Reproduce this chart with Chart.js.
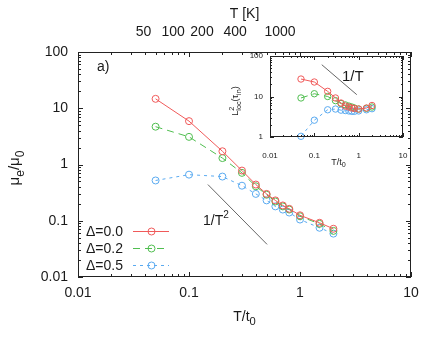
<!DOCTYPE html>
<html><head><meta charset="utf-8">
<script src="https://cdn.jsdelivr.net/npm/chart.js@4.4.0/dist/chart.umd.min.js"></script>
<style>
html,body{margin:0;padding:0;background:#fff;}
#wrap{position:relative;width:436px;height:349px;background:#fff;}
canvas{position:absolute;left:0;top:0;}
</style></head><body>
<div id="wrap"><canvas id="main" width="436" height="349"></canvas><canvas id="inset" width="436" height="349"></canvas></div>
<script>
// ---- data ----
const temperatures = [0.05, 0.1, 0.2, 0.3, 0.4, 0.5, 0.6, 0.7, 0.8, 1.0, 1.5, 2.0];
const mobilityD00 = [14.7, 5.9, 1.72, 0.78, 0.44, 0.30, 0.23, 0.187, 0.163, 0.125, 0.092, 0.072];
const mobilityD02 = [4.7, 3.1, 1.3, 0.71, 0.41, 0.29, 0.22, 0.18, 0.158, 0.12, 0.088, 0.066];
const mobilityD05 = [0.52, 0.66, 0.61, 0.42, 0.30, 0.23, 0.18, 0.158, 0.14, 0.105, 0.075, 0.059];
const locLengthD00 = [27, 22.8, 13.4, 9.2, 6.9, 5.8, 5.5, 5.2, 5.1, 4.9, 5.2, 6.0];
const locLengthD02 = [9.2, 11.7, 10, 7.9, 6.7, 6.2, 5.8, 5.5, 5.2, 4.9, 5.1, 5.5];
const locLengthD05 = [1.04, 2.6, 4.7, 4.9, 4.6, 4.5, 4.4, 4.3, 4.3, 4.4, 4.7, 5.0];
const seriesLabels = ['Δ=0.0', 'Δ=0.2', 'Δ=0.5'];
const xTickValues = [0.01, 0.1, 1, 10];
const xTickLabels = ['0.01', '0.1', '1', '10'];
const yTickValues = [0.01, 0.1, 1, 10, 100];
const yTickLabels = ['0.01', '0.1', '1', '10', '100'];
const kelvinTickValues = [0.039, 0.072, 0.131, 0.26, 0.66];
const kelvinTickLabels = ['50', '100', '200', '400', '1000'];
const insetYTickValues = [1, 10, 100];
const insetYTickLabels = ['1', '10', '100'];
const guideT2X = [0.148, 0.505];
const guideT2Y = [0.44, 0.038];
const guideT1X = [0.147, 0.906];
const guideT1Y = [61, 11.1];

// ---- styles ----
const FAMILY = '"Liberation Sans", Arial, Helvetica, sans-serif';
const TEXT = '#1a1a1a';
const FRAME = '#222';
const COLORS = ['rgb(240,90,90)', 'rgb(80,190,80)', 'rgb(90,170,240)'];
const DASHES = [[], [7, 5], [3, 4]];
Chart.defaults.font.family = FAMILY;
Chart.defaults.color = TEXT;

function pts(xs, ys) { return xs.map((x, i) => ({x: x, y: ys[i]})); }
function series(i, ys, r) {
  return {
    label: seriesLabels[i], data: pts(temperatures, ys),
    borderColor: COLORS[i], backgroundColor: 'rgba(0,0,0,0)', borderWidth: 1,
    borderDash: DASHES[i], pointRadius: r, pointBorderColor: COLORS[i],
    pointBackgroundColor: 'rgba(0,0,0,0)', pointBorderWidth: 1, tension: 0, fill: false, clip: false
  };
}
function guide(xs, ys) {
  return {data: pts(xs, ys), borderColor: '#666', borderWidth: 1, pointRadius: 0, fill: false, tension: 0};
}

function rich(ctx, x, y, parts, size, align, rot) {
  ctx.save();
  ctx.translate(x, y);
  if (rot) ctx.rotate(rot);
  const fontOf = s => s + 'px ' + FAMILY;
  let w = 0;
  for (const p of parts) {
    ctx.font = fontOf(size * (p.scale || 1));
    if (!p.stack) w += ctx.measureText(p.t).width;
  }
  let cx = align === 'center' ? -w / 2 : (align === 'right' ? -w : 0);
  ctx.textBaseline = 'alphabetic'; ctx.textAlign = 'left'; ctx.fillStyle = TEXT;
  for (const p of parts) {
    ctx.font = fontOf(size * (p.scale || 1));
    ctx.fillText(p.t, cx, (p.dy || 0) * size);
    if (!p.stack) cx += ctx.measureText(p.t).width;
  }
  ctx.restore();
}

function drawFrameAndTicks(chart, xs, ys, major, minor) {
  const {ctx} = chart;
  const a = chart.chartArea;
  ctx.save();
  ctx.strokeStyle = FRAME; ctx.lineWidth = 1; ctx.setLineDash([]);
  ctx.beginPath();
  const logTicks = (sc) => {
    const out = [];
    for (let e = Math.floor(Math.log10(sc.min) + 1e-9); e <= Math.ceil(Math.log10(sc.max) - 1e-9); e++) {
      for (let k = 1; k <= 9; k++) {
        const v = k * Math.pow(10, e);
        if (v >= sc.min * 0.999 && v <= sc.max * 1.001) out.push({v: v, major: k === 1});
      }
    }
    return out;
  };
  for (const t of logTicks(xs)) {
    const px = Math.round(xs.getPixelForValue(t.v)) + 0.5;
    const L = t.major ? major : minor;
    ctx.moveTo(px, a.bottom); ctx.lineTo(px, a.bottom - L);
    ctx.moveTo(px, a.top); ctx.lineTo(px, a.top + L);
  }
  for (const t of logTicks(ys)) {
    const py = Math.round(ys.getPixelForValue(t.v)) + 0.5;
    const L = t.major ? major : minor;
    ctx.moveTo(a.left, py); ctx.lineTo(a.left + L, py);
    ctx.moveTo(a.right, py); ctx.lineTo(a.right - L, py);
  }
  ctx.stroke();
  ctx.strokeRect(Math.round(a.left) + 0.5, Math.round(a.top) + 0.5, Math.round(a.right - a.left) - 1, Math.round(a.bottom - a.top) - 1);
  ctx.restore();
}

const mainDecor = {
  id: 'mainDecor',
  afterDraw(chart) {
    const {ctx} = chart;
    const a = chart.chartArea;
    drawFrameAndTicks(chart, chart.scales.x, chart.scales.y, 5, 3);
    const cxp = (a.left + a.right) / 2;
    rich(ctx, cxp, 18, [{t: 'T [K]'}], 14, 'center');
    rich(ctx, cxp, 321, [{t: 'T/t'}, {t: '0', scale: 0.8, dy: 0.3}], 14, 'center');
    rich(ctx, 19, 168, [{t: 'μ'}, {t: 'e', scale: 0.8, dy: 0.3}, {t: '/μ'}, {t: '0', scale: 0.8, dy: 0.3}], 15, 'center', -Math.PI / 2);
    rich(ctx, 97, 71, [{t: 'a)'}], 14, 'left');
    rich(ctx, 203, 225, [{t: '1/T'}, {t: '2', scale: 0.72, dy: -0.5}], 14, 'left');
    // legend
    const rows = [231, 248, 265];
    for (let i = 0; i < 3; i++) {
      const y = rows[i];
      rich(ctx, 86, y + 5, [{t: seriesLabels[i]}], 14, 'left');
      ctx.save();
      ctx.strokeStyle = COLORS[i]; ctx.lineWidth = 1; ctx.setLineDash(DASHES[i]);
      ctx.beginPath(); ctx.moveTo(133, y + 0.5); ctx.lineTo(169, y + 0.5); ctx.stroke();
      ctx.setLineDash([]);
      ctx.beginPath(); ctx.arc(151.5, y + 0.5, 3.5, 0, Math.PI * 2); ctx.stroke();
      ctx.restore();
    }
  }
};

const insetDecor = {
  id: 'insetDecor',
  afterDraw(chart) {
    const {ctx} = chart;
    const a = chart.chartArea;
    drawFrameAndTicks(chart, chart.scales.x, chart.scales.y, 4, 2);
    rich(ctx, (a.left + a.right) / 2 + 2, 164.5, [{t: 'T/t'}, {t: '0', scale: 0.8, dy: 0.3}], 9, 'center');
    rich(ctx, 238, 101, [{t: 'L'}, {t: '2', scale: 0.8, dy: -0.45, stack: true}, {t: 'loc', scale: 0.8, dy: 0.3}, {t: '(τ'}, {t: 'in', scale: 0.8, dy: 0.3}, {t: ')'}], 9, 'center', -Math.PI / 2);
    rich(ctx, 342, 81, [{t: '1/T'}], 15, 'left');
  }
};

function fixTicks(values) { return function (scale) { scale.ticks = values.map(v => ({value: v})); }; }

new Chart(document.getElementById('main'), {
  type: 'line',
  data: {datasets: [series(0, mobilityD00, 3.5), series(1, mobilityD02, 3.5), series(2, mobilityD05, 3.5), guide(guideT2X, guideT2Y)]},
  options: {
    responsive: false, animation: false, devicePixelRatio: 1,
    layout: {padding: {left: 0, right: 25, top: 0, bottom: 0}},
    plugins: {legend: {display: false}, tooltip: {enabled: false}},
    scales: {
      x: {
        type: 'logarithmic', position: 'bottom', min: 0.01, max: 10,
        grid: {display: false, drawTicks: false}, border: {display: false},
        afterBuildTicks: fixTicks(xTickValues),
        afterFit: s => { s.height = 72; },
        ticks: {autoSkip: false, maxRotation: 0, padding: 7.6, font: {size: 14}, color: TEXT,
          callback: (v, i) => xTickLabels[i]}
      },
      x2: {
        type: 'logarithmic', position: 'top', min: 0.01, max: 10,
        grid: {display: false, drawTicks: false}, border: {display: false},
        afterBuildTicks: fixTicks(kelvinTickValues),
        afterFit: s => { s.height = 52; },
        ticks: {autoSkip: false, maxRotation: 0, padding: 11.6, font: {size: 14}, color: TEXT,
          callback: (v, i) => kelvinTickLabels[i]}
      },
      y: {
        type: 'logarithmic', position: 'left', min: 0.01, max: 100,
        grid: {display: false, drawTicks: false}, border: {display: false},
        afterBuildTicks: fixTicks(yTickValues),
        afterFit: s => { s.width = 78; },
        ticks: {autoSkip: false, padding: 10, font: {size: 14}, color: TEXT,
          callback: (v, i) => yTickLabels[i]}
      }
    }
  },
  plugins: [mainDecor]
});

new Chart(document.getElementById('inset'), {
  type: 'line',
  data: {datasets: [series(0, locLengthD00, 3.2), series(1, locLengthD02, 3.2), series(2, locLengthD05, 3.2), guide(guideT1X, guideT1Y)]},
  options: {
    responsive: false, animation: false, devicePixelRatio: 1,
    layout: {padding: {left: 240, right: 33, top: 56, bottom: 182}},
    plugins: {legend: {display: false}, tooltip: {enabled: false}},
    scales: {
      x: {
        type: 'logarithmic', position: 'bottom', min: 0.01, max: 10,
        grid: {display: false, drawTicks: false}, border: {display: false},
        afterBuildTicks: fixTicks(xTickValues),
        afterFit: s => { s.height = 30; },
        ticks: {autoSkip: false, maxRotation: 0, padding: 13.5, font: {size: 8}, color: TEXT,
          callback: (v, i) => xTickLabels[i]}
      },
      y: {
        type: 'logarithmic', position: 'left', min: 1, max: 100,
        grid: {display: false, drawTicks: false}, border: {display: false},
        afterBuildTicks: fixTicks(insetYTickValues),
        afterFit: s => { s.width = 30; },
        ticks: {autoSkip: false, padding: 7, font: {size: 8}, color: TEXT,
          callback: (v, i) => insetYTickLabels[i]}
      }
    }
  },
  plugins: [insetDecor]
});
</script>
</body></html>
